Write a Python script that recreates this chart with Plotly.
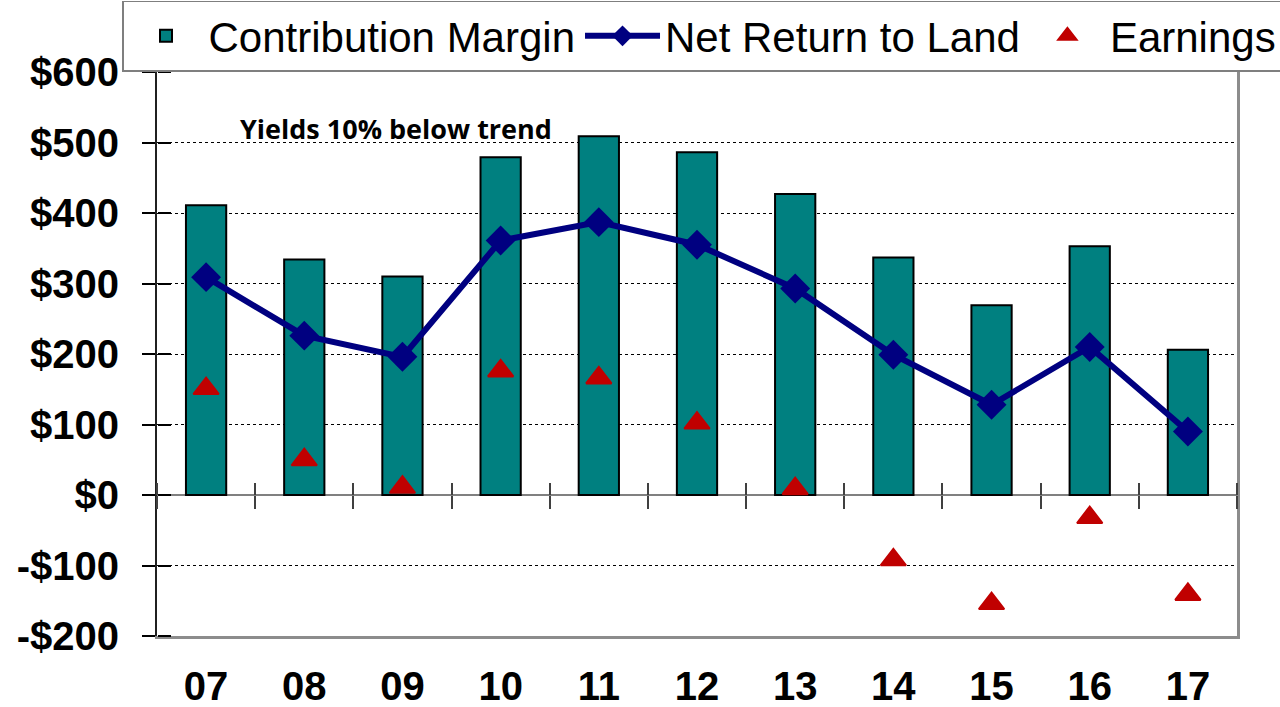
import plotly.graph_objects as go

years = ["07", "08", "09", "10", "11", "12", "13", "14", "15", "16", "17"]
contribution_margin = [411, 334, 310, 479, 509, 486, 427, 337, 269, 353, 206]
net_return = [309, 226, 196, 361, 387, 355, 293, 199, 128, 210, 90]
earnings = [151, 50, 11, 176, 166, 102, 9, -92, -154, -32, -141]
y_tick_values = [-200, -100, 0, 100, 200, 300, 400, 500, 600]
y_tick_labels = ["-$200", "-$100", "$0", "$100", "$200", "$300", "$400", "$500", "$600"]
y_min, y_max = -200, 600

TEAL = "#008080"
NAVY = "#000080"
RED = "#C00000"
FRAME = "#8C8C8C"

x_range = [-0.5, len(years) - 0.5]
zero_frac = (0 - y_min) / (y_max - y_min)

fig = go.Figure()
fig.add_trace(go.Bar(
    x=years, y=contribution_margin, name="Contribution Margin",
    marker=dict(color=TEAL, line=dict(color="black", width=2)), width=0.41,
))
fig.add_trace(go.Scatter(
    x=years, y=net_return, name="Net Return to Land", mode="lines+markers",
    line=dict(color=NAVY, width=6),
    marker=dict(symbol="diamond", size=23, color=NAVY),
))
fig.add_trace(go.Scatter(
    x=years, y=earnings, name="Earnings", mode="markers",
    marker=dict(symbol="triangle-up", size=22, color=RED, line=dict(color=RED, width=2)),
))
# helper (invisible) traces that carry the crossing tick marks and the right frame line
fig.add_trace(go.Scatter(x=years, y=net_return, xaxis="x2", yaxis="y2", mode="markers",
                         marker=dict(opacity=0), showlegend=False, hoverinfo="skip"))
fig.add_trace(go.Scatter(x=years, y=net_return, xaxis="x3", yaxis="y3", mode="markers",
                         marker=dict(opacity=0), showlegend=False, hoverinfo="skip"))

bold40 = dict(family="Arial, Liberation Sans, sans-serif", size=40, color="black", weight="bold")

fig.update_layout(
    width=1280, height=707,
    margin=dict(l=157, r=43, t=72, b=71, pad=0, autoexpand=False),
    paper_bgcolor="white", plot_bgcolor="white",
    showlegend=True,
    legend=dict(
        orientation="h", xref="paper", yref="paper",
        x=(122 - 157) / 1080, xanchor="left", y=(636 - 36) / 564, yanchor="middle",
        font=dict(family="Arial, Liberation Sans, sans-serif", size=42, color="black"),
        bordercolor="#7F7F7F", borderwidth=1.5, bgcolor="white",
        itemwidth=75, tracegroupgap=0,
    ),
    xaxis=dict(
        type="category", range=x_range, showgrid=False, zeroline=False,
        showline=True, linecolor=FRAME, linewidth=3, mirror=True,
        ticks="", tickfont=bold40, ticklabelstandoff=13, automargin=False,
    ),
    xaxis2=dict(
        type="category", range=x_range, overlaying="x", anchor="free", position=zero_frac,
        side="bottom", showgrid=False, zeroline=False, showline=False,
        ticks="outside", ticklen=13, tickwidth=1.5, tickcolor="#404040",
        tickson="boundaries", showticklabels=False,
    ),
    xaxis3=dict(
        type="category", range=x_range, overlaying="x", anchor="free", position=zero_frac,
        side="top", showgrid=False, zeroline=False, showline=False,
        ticks="outside", ticklen=12, tickwidth=1.5, tickcolor="#404040",
        tickson="boundaries", showticklabels=False,
    ),
    yaxis=dict(
        range=[y_min, y_max], tickvals=y_tick_values, ticktext=y_tick_labels,
        showgrid=True, gridcolor="black", griddash="dot", gridwidth=1,
        zeroline=True, zerolinecolor="#808080", zerolinewidth=2,
        showline=True, linecolor="#202020", linewidth=2,
        ticks="outside", ticklen=13, tickwidth=1.5, tickcolor="black",
        tickfont=bold40, ticklabelstandoff=15, automargin=False,
    ),
    yaxis2=dict(
        range=[y_min, y_max], overlaying="y", anchor="free", position=0, side="right",
        tickvals=y_tick_values, showgrid=False, zeroline=False, showline=False,
        ticks="outside", ticklen=13, tickwidth=1.5, tickcolor="black", showticklabels=False,
    ),
    yaxis3=dict(
        range=[y_min, y_max], overlaying="y", anchor="x3", side="right",
        showgrid=False, zeroline=False, showline=True, linecolor=FRAME, linewidth=3,
        ticks="", showticklabels=False,
    ),
    annotations=[dict(
        text="<b>Yields 10% below trend</b>", xref="paper", yref="paper",
        x=(396 - 157) / 1080, y=(636 - 128) / 564, xanchor="center", yanchor="middle",
        showarrow=False,
        font=dict(family="Open Sans, sans-serif", size=27, color="black"),
    )],
)

fig.write_html(
    "out.html",
    config={"displayModeBar": False},
    post_script="document.body.style.margin='0';document.body.style.overflow='hidden';",
)
